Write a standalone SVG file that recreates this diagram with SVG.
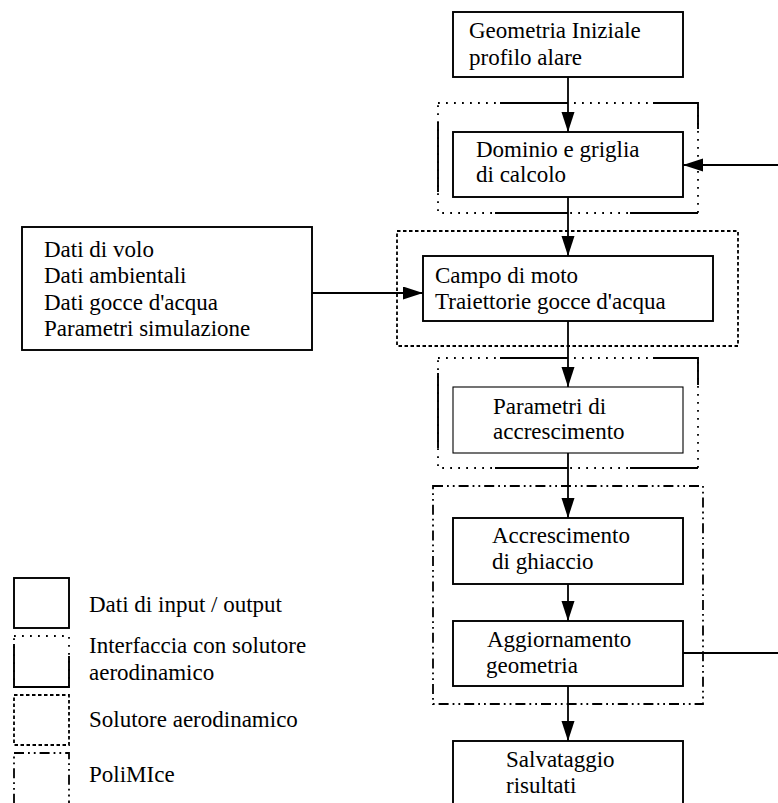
<svg xmlns="http://www.w3.org/2000/svg" width="778" height="803" viewBox="0 0 778 803">
<style>
text{font-family:"Liberation Serif","Times New Roman",serif;font-size:23px;fill:#000}
.box{fill:#fff;stroke:#000;stroke-width:1.9}
.thin{fill:#fff;stroke:#000;stroke-width:1.1}
.dot{fill:none;stroke:#000;stroke-width:1.8;stroke-dasharray:1.8 6.2}
.sol{fill:none;stroke:#000;stroke-width:1.9}
.dash{fill:none;stroke:#000;stroke-width:1.8;stroke-dasharray:3.5 2.5}
.dd{fill:none;stroke:#000;stroke-width:1.8;stroke-dasharray:10 4 1.8 4 1.8 4}
.conn{fill:none;stroke:#000;stroke-width:1.8}
</style>
<defs>
<marker id="ah" markerUnits="userSpaceOnUse" markerWidth="22" markerHeight="14" refX="20" refY="6.5" orient="auto">
<path d="M0,0 L20,6.5 L0,13 Z" fill="#000"/>
</marker>
</defs>

<g id="group-interface-1">
<rect class="dot" x="438" y="103" width="260" height="110"/>
<path class="sol" d="M500,103 H568 M653,103 H698 V129 M495,213 H568 M630,213 H698 M438,122 V192"/>
</g>
<g id="group-solutore">
<rect class="dash" x="397" y="231" width="341" height="115"/>
</g>
<g id="group-interface-2">
<rect class="dot" x="438" y="358" width="260" height="110"/>
<path class="sol" d="M500,358 H568 M653,358 H698 V385 M495,468 H568 M630,468 H698 M438,373 V448"/>
</g>
<g id="group-polimice">
<rect class="dd" x="433" y="486" width="270" height="218"/>
</g>

<g id="connectors">
<line class="conn" x1="568" y1="77" x2="568" y2="132" marker-end="url(#ah)"/>
<line class="conn" x1="778" y1="165" x2="683" y2="165" marker-end="url(#ah)"/>
<line class="conn" x1="568" y1="197" x2="568" y2="256" marker-end="url(#ah)"/>
<line class="conn" x1="312" y1="293" x2="423" y2="293" marker-end="url(#ah)"/>
<line class="conn" x1="568" y1="321" x2="568" y2="387" marker-end="url(#ah)"/>
<line class="conn" x1="568" y1="453" x2="568" y2="518" marker-end="url(#ah)"/>
<line class="conn" x1="568" y1="584" x2="568" y2="621" marker-end="url(#ah)"/>
<line class="conn" x1="683" y1="653" x2="778" y2="653"/>
<line class="conn" x1="568" y1="686" x2="568" y2="741" marker-end="url(#ah)"/>
</g>

<g id="node-geometria">
<rect class="box" x="453" y="12" width="230" height="65"/>
<text x="469" y="38">Geometria Iniziale</text>
<text x="469" y="65">profilo alare</text>
</g>
<g id="node-dominio">
<rect class="box" x="453" y="132" width="230" height="65"/>
<text x="476" y="157">Dominio e griglia</text>
<text x="476" y="182">di calcolo</text>
</g>
<g id="node-dati">
<rect class="box" x="22" y="227" width="290" height="123"/>
<text x="44" y="257">Dati di volo</text>
<text x="44" y="283">Dati ambientali</text>
<text x="44" y="310">Dati gocce d'acqua</text>
<text x="44" y="336">Parametri simulazione</text>
</g>
<g id="node-campo">
<rect class="box" x="423" y="256" width="290" height="65"/>
<text x="435" y="283">Campo di moto</text>
<text x="435" y="309">Traiettorie gocce d'acqua</text>
</g>
<g id="node-parametri">
<rect class="thin" x="453" y="387" width="230" height="66"/>
<text x="493" y="414">Parametri di</text>
<text x="493" y="439">accrescimento</text>
</g>
<g id="node-accrescimento">
<rect class="box" x="453" y="518" width="230" height="66"/>
<text x="492" y="543">Accrescimento</text>
<text x="492" y="569">di ghiaccio</text>
</g>
<g id="node-aggiornamento">
<rect class="box" x="453" y="621" width="230" height="65"/>
<text x="487" y="647">Aggiornamento</text>
<text x="486" y="673">geometria</text>
</g>
<g id="node-salvataggio">
<rect class="box" x="453" y="741" width="230" height="70"/>
<text x="506" y="767">Salvataggio</text>
<text x="506" y="793">risultati</text>
</g>

<g id="legend">
<rect class="box" x="14" y="578" width="55" height="50"/>
<text x="89" y="612">Dati di input / output</text>
<rect class="dot" x="14" y="636" width="55" height="51"/>
<path class="sol" d="M14,644 V687 H69 V656"/>
<text x="89" y="653">Interfaccia con solutore</text>
<text x="89" y="680">aerodinamico</text>
<rect class="dash" x="14" y="695" width="55" height="50"/>
<text x="89" y="727">Solutore aerodinamico</text>
<rect class="dd" x="14" y="753" width="55" height="60"/>
<text x="89" y="782">PoliMIce</text>
</g>
</svg>
